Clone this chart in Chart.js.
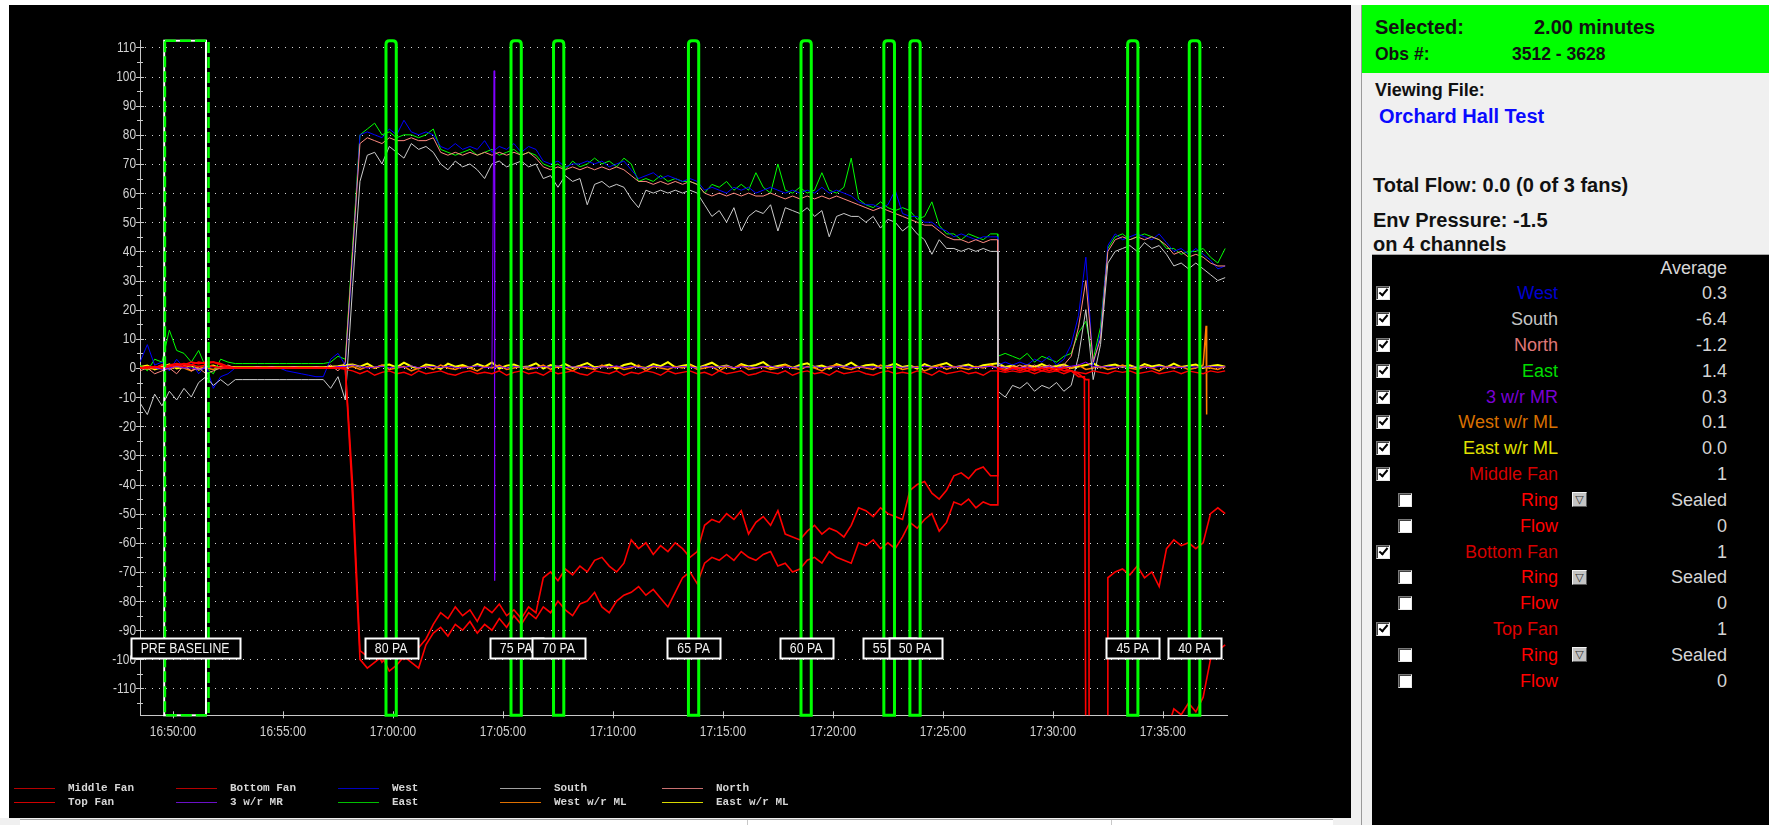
<!DOCTYPE html>
<html>
<head>
<meta charset="utf-8">
<title>Orchard Hall Test</title>
<script src="https://cdn.jsdelivr.net/npm/chart.js@4.4.1/dist/chart.umd.min.js"></script>
<style>
  html, body { margin: 0; padding: 0; }
  body { position: relative; width: 1769px; height: 825px; overflow: hidden; background: #ffffff;
         font-family: 'Liberation Sans', Arial, sans-serif; }
  .box { position: absolute; }
  .t  { position: absolute; white-space: nowrap; line-height: 1.15; transform: translateY(-50%); }
  .tr { position: absolute; white-space: nowrap; line-height: 1.15; transform: translate(-100%, -50%); }
  #plotPanel { left: 9px; top: 5px; width: 1342px; height: 813px; background: #000; }
  #plot { display: block; }
  .hdr { font-weight: bold; color: #111; }
  .cb { position: absolute; width: 12px; height: 12px; background: #fff;
        border: 1px solid; border-color: #7a7a7a #e8e8e8 #e8e8e8 #7a7a7a; box-shadow: inset 1px 1px 0 #404040; }
  .cb.on::after { content: ''; position: absolute; left: 4px; top: 0px; width: 3px; height: 7px;
        border: solid #000; border-width: 0 2px 2px 0; transform: rotate(40deg); }
  .dd { position: absolute; width: 13px; height: 13px; background: #c4c4c4;
        border: 1px solid; border-color: #f4f4f4 #5a5a5a #5a5a5a #f4f4f4;
        font: 11px 'DejaVu Sans', sans-serif; color: #303030; text-align: center; line-height: 13px; }
  .row { font-size: 18px; }
  .lg { position: absolute; font: bold 11px 'Liberation Mono', 'DejaVu Sans Mono', monospace; color: #d6d6d6;
        white-space: nowrap; line-height: 1.15; transform: translateY(-50%); }
</style>
</head>
<body>
<div class="box" id="plotPanel"><canvas id="plot" width="1342" height="813"></canvas></div>

<!-- horizontal scroll strip under the plot -->
<div class="box" style="left:0;top:818px;width:1351px;height:7px;background:#f0f0f0;"></div>
<div class="box" style="left:20px;top:819px;width:1313px;height:6px;background:#ffffff;border-top:1px solid #a8a8a8;"></div>
<div class="box" style="left:747px;top:820px;width:1px;height:5px;background:#c8c8c8;"></div>
<div class="box" style="left:1111px;top:820px;width:1px;height:5px;background:#c8c8c8;"></div>

<!-- splitter and side panel -->
<div class="box" style="left:1351px;top:5px;width:10px;height:820px;background:#f0f0f0;"></div>
<div class="box" style="left:1361px;top:5px;width:1px;height:820px;background:#9a9a9a;"></div>
<div class="box" style="left:1362px;top:5px;width:407px;height:820px;background:#f0f0f0;"></div>
<div class="box" style="left:1362px;top:5px;width:407px;height:68px;background:#00ff00;"></div>
<div class="box" id="table" style="left:1372px;top:254px;width:397px;height:571px;background:#000;border-top:1px solid #a8a8a8;"></div>

<div class="t hdr" style="left:1375px;top:27px;font-size:20px;">Selected:</div>
<div class="t hdr" style="left:1534px;top:27px;font-size:20px;">2.00 minutes</div>
<div class="t hdr" style="left:1375px;top:53.5px;font-size:17.5px;">Obs #:</div>
<div class="t hdr" style="left:1512px;top:53.5px;font-size:17.5px;">3512 - 3628</div>
<div class="t hdr" style="left:1375px;top:89.5px;font-size:18px;">Viewing File:</div>
<div class="t hdr" style="left:1379px;top:116px;font-size:20px;color:#0a0aff;">Orchard Hall Test</div>
<div class="t hdr" style="left:1373px;top:184.5px;font-size:20px;">Total Flow: 0.0 (0 of 3 fans)</div>
<div class="t hdr" style="left:1373px;top:220px;font-size:20px;">Env Pressure: -1.5</div>
<div class="t hdr" style="left:1373px;top:243.5px;font-size:20px;">on 4 channels</div>
<div class="tr row" style="left:1727px;top:268px;color:#d8d8d8;">Average</div>

<script>
// ---- sampling grid (one reading every 20 s) ----
const sampleStart = '16:48:30';
const sampleStepSec = 20;
const axisStart = '16:48:30';
const axisEnd = '17:37:55';
const timeTicks = ['16:50:00', '16:55:00', '17:00:00', '17:05:00', '17:10:00', '17:15:00',
                   '17:20:00', '17:25:00', '17:30:00', '17:35:00'];
const yMin = -119.2;
const yMax = 112.3;

// ---- channel readings (Pa), rows start at 16:48:30, 16:53:30, 16:58:30 ... ----
const middleFan = [
  0, 0, 0.5, 0, 1, 1.5, 1, 2, 1.5, 2, 2, 1, 0, 0, 0,
  0, 0, 0, 0, 0, 0, 0, 0, 0, 0, 0, 0, 0, 0, -40,
  -97, -99, -96, -101, -98, -97, -100, -98, -96, -93, -88, -84, -86, -82, -85,
  -83, -87, -82, -84, -81, -85, -83, -86, -82, -84, -72, -70, -73, -69, -71,
  -68, -70, -66, -65, -68, -70, -67, -59, -62, -60, -64, -61, -63, -60, -62,
  -65, -63, -54, -52, -53, -50, -52, -49, -57, -53, -51, -54, -49, -57, -58,
  -59, -56, -54, -57, -55, -56, -58, -54, -48, -49, -51, -48, -50, -51, -52,
  -42, -40, -39, -43, -45, -42, -37, -36, -38, -35, -34, -37, 0, -1, 0,
  -1, 0, -1, 0, -1, 0, -1, -1, -3, -135, -135, -135, -135, -135, -135,
  -135, -135, -135, -135, -135, -125, -117, -119, -115, -118, -113, -100, -97, -95
];
const bottomFan = [
  0, 0.5, 0, 1, 0.5, 1, 1.5, 1, 2, 1.5, 2, 1.5, 0.5, 0, 0,
  0, 0, 0, 0, 0, 0, 0, 0, 0, 0, 0, 0, 0, 0, -45,
  -100, -103, -101, -99, -104, -102, -99, -101, -103, -95, -91, -89, -92, -88, -90,
  -87, -91, -88, -90, -86, -89, -85, -88, -84, -86, -82, -84, -80, -83, -85,
  -81, -80, -77, -82, -84, -80, -78, -77, -75, -78, -76, -79, -82, -77, -72,
  -70, -74, -67, -65, -66, -64, -66, -63, -65, -66, -64, -63, -68, -67, -70,
  -69, -66, -65, -67, -63, -65, -66, -67, -60, -61, -59, -62, -60, -62, -58,
  -53, -55, -52, -50, -56, -53, -46, -47, -45, -48, -46, -47, 0, -1, 0,
  0, -1, 0, -1, 0, -1, 0, -1, -2, -4, -135, -135, -72, -70, -69,
  -71, -68, -72, -70, -75, -62, -59, -61, -60, -62, -60, -50, -48, -50
];
const topFan = [
  0, 0, 0.5, 0, 0.5, 1, 0.5, 1, 0.5, 1, 0.5, 0, 0, 0, 0,
  0, 0, 0, 0, 0, 0, 0, 0, 0, 0, 0, 0, 0, -0.5, -1,
  -2, -1, -2.5, -1.5, -1, -2, -1.5, -2.5, -1, -2, -1.5, -1, -2, -2.5, -1.5,
  -1, -2, -1.5, -2, -1, -2.5, -1.5, -1, -2, -1.5, -2.5, -1, -2, -1.5, -1,
  -2, -2.5, -1, -1.5, -2, -1, -2.5, -1.5, -2, -1, -1.5, -2.5, -1, -2, -1.5,
  -1, -2, -1.5, -2.5, -1, -2, -1.5, -1, -2.5, -2, -1, -1.5, -2, -1, -2.5,
  -1.5, -1, -2, -1.5, -2.5, -1, -2, -1.5, -1, -2, -2.5, -1.5, -1, -2, -1.5,
  -2, -1, -1.5, -2.5, -1, -2, -1.5, -1, -2, -1.5, -2.5, -1, -1, -1.5, -1,
  -1.5, -1, -2, -1, -1.5, -1, -2, -1, -1.5, -2, -1, -1.5, -2, -1, -1.5,
  -1, -2, -1.5, -1, -2, -1.5, -1, -2, -1, -1.5, -2, -1, -1.5, -1
];
const mrValues = [
  0, 0.5, 0, -0.5, 0, 0.5, 0, 0, -0.5, 0, 0.5, 0, 0, 0, 0,
  0, 0, 0, 0, 0, 0, 0, 0, 0, 0, 0, 0, 0.5, 0.5, 1,
  0.5, 0, 0.3, 0.6, 0, 0.4, 0.2, 0.7, 0, 0.3, 0.5, 0.1, 0.6, 0.2, 0,
  0.4, 0.7, 0.1, 0.3, 0.5, 0, 0.6, 0.2, 0.4, 0, 0.5, 0.3, 0.7, 0.1, 0.4,
  0.2, 0.6, 0, 0.4, 0.3, 0.7, 0.1, 0.5, 0.2, 0, 0.6, 0.3, 0.4, 0.1, 0.5,
  0.3, 0, 0.6, 0.2, 0.4, 0.7, 0.1, 0.3, 0.5, 0, 0.4, 0.6, 0.2, 0.3, 0.1,
  0.5, 0.2, 0.6, 0, 0.4, 0.3, 0.7, 0.1, 0.5, 0.2, 0.4, 0, 0.6, 0.3, 0.2,
  0.4, 0.1, 0.6, 0.3, 0, 0.5, 0.2, 0.7, 0.3, 0.1, 0.4, 0.5, 0, 0.3, -0.5,
  0, 0.3, -0.3, 0.2, 0.5, 0, 0.3, 0.6, 1, 2, 0.5, 0.3, 0.6, 0.2, 0.4,
  0.1, 0.5, 0.3, 0, 0.6, 0.2, 0.4, 0.1, 0.5, 0.3, 0.2, 0.6, 0.3, 0.4
];
const south = [
  -12, -16, -9, -13, -8, -11, -7, -10, -5, -3, -6, -4, -6, -4, -4,
  -4, -4, -4, -4, -4, -4, -4, -4, -4, -4, -4, -7, -3, -11, 28,
  64, 73, 74, 70, 76, 74, 72, 77, 75, 76, 74, 70, 68, 71, 69,
  70, 68, 65, 70, 71, 69, 70, 71, 69, 70, 65, 66, 62, 66, 64,
  65, 56, 63, 64, 62, 63, 62, 58, 55, 61, 60, 61, 60, 61, 60,
  61, 60, 56, 52, 54, 50, 55, 47, 52, 54, 53, 56, 47, 55, 54,
  53, 55, 52, 54, 45, 52, 53, 52, 52, 50, 52, 48, 51, 50, 47,
  49, 46, 44, 39, 44, 41, 41, 40, 41, 40, 41, 40, -8, -10, -6,
  -7, -5, -8, -6, -7, -5, -8, -6, 4, 20, -4, 8, 36, 40, 41,
  42, 40, 43, 41, 42, 39, 35, 36, 34, 36, 34, 32, 30, 31
];
const north = [
  -1, 0, -2, -1, 0, -2, 1, -1, 0, -2, -1, 0, 1, 0, 0,
  0, 0.5, 0, 0.5, 0, 0, 0.5, 0, 0, 0.5, 0, 1, -1, 2, 40,
  77, 79, 78, 77, 79, 78, 78, 79, 78, 78, 79, 74, 73, 74, 73,
  74, 73, 74, 73, 74, 73, 74, 73, 74, 72, 69, 68, 69, 68, 69,
  68, 69, 68, 69, 68, 69, 68, 66, 64, 64, 63, 64, 63, 64, 63,
  64, 63, 60, 59, 60, 59, 60, 59, 60, 59, 59, 60, 59, 58, 59,
  58, 59, 58, 59, 58, 59, 58, 57, 56, 55, 54, 55, 54, 53, 52,
  51, 50, 49, 49, 47, 45, 44, 44, 43, 44, 43, 44, 1, 0, 0,
  1, 0, 1, 0, 1, 0, 1, 4, 14, 30, 2, 10, 40, 44, 45,
  44, 45, 44, 45, 44, 42, 39, 40, 38, 39, 38, 36, 35, 35
];
const west = [
  2, 8, 1, 2, -1, 3, 0, 2, -2, 1, -7, -3, -2, 0, 0,
  0, 0, 0, 0, 0, -1, -1.5, -2, -2.5, -3, -3, 3, 5, 1, 38,
  80, 81, 80, 79, 82, 80, 85, 81, 80, 81, 80, 76, 75, 77, 75,
  76, 75, 78, 74, 76, 75, 77, 74, 76, 75, 71, 70, 71, 69, 70,
  70, 71, 70, 71, 69, 70, 71, 68, 65, 66, 67, 65, 66, 65, 64,
  65, 64, 61, 62, 61, 60, 62, 61, 62, 60, 61, 62, 61, 60, 61,
  60, 61, 60, 62, 60, 61, 60, 59, 57, 56, 56, 55, 56, 61, 53,
  52, 52, 50, 50, 48, 47, 45, 46, 45, 44, 45, 45, 1, 2, 1,
  2, 1, 3, 2, 4, 1, 3, 8, 18, 38, 1, 12, 42, 46, 44,
  45, 46, 45, 44, 46, 43, 40, 41, 39, 41, 39, 37, 34, 35
];
const east = [
  1, -1, 3, 2, 13, 6, 5, 2, 6, 0, -2, 3, 2, 1.5, 1.5,
  1.5, 1.5, 1.5, 1.5, 1.5, 1.5, 1.5, 1.5, 1.5, 1.5, 1.5, 2, 4, 3, 42,
  80, 82, 84, 80, 81, 79, 80, 80, 79, 80, 82, 75, 74, 73, 74,
  75, 73, 74, 75, 73, 74, 75, 73, 74, 73, 70, 69, 70, 68, 71,
  69, 70, 72, 70, 71, 69, 72, 70, 64, 65, 64, 66, 64, 65, 64,
  64, 63, 60, 63, 62, 64, 61, 63, 61, 67, 62, 60, 70, 61, 60,
  62, 60, 61, 67, 61, 60, 62, 72, 58, 56, 55, 57, 55, 54, 55,
  54, 51, 52, 57, 49, 46, 46, 44, 46, 45, 44, 46, 4, 5, 4,
  3, 5, 2, 4, 3, 2, 4, 5, 12, 16, 3, 14, 41, 45, 46,
  44, 45, 46, 45, 44, 41, 41, 39, 40, 40, 41, 38, 36, 41
];
const westML = [
  0.5, -0.5, 0, 1, -0.5, 0.5, 0, -1, 0.5, 0, -0.5, 0.5, 0, 0, 0,
  0, 0, 0, 0, 0, 0, 0, 0, 0, 0, 0, 0, 0.5, 0, 0.5,
  -0.5, 0.5, 0, 1, -0.5, 0, 0.5, -1, 0, 0.5, -0.5, 1, 0, -0.5, 0.5,
  0, -1, 0.5, 0, 1, -0.5, 0, 0.5, -0.5, 0, 1, -0.5, 0.5, 0, -1,
  0.5, 0, -0.5, 1, 0, 0.5, -0.5, 0, 1, -1, 0.5, 0, -0.5, 0.5, 0,
  1, -0.5, 0, 0.5, -1, 0.5, 0, 1, -0.5, 0, 0.5, -0.5, 0, 1, 0,
  -0.5, 0.5, 0, -1, 0.5, 1, 0, -0.5, 0.5, 0, -0.5, 1, 0, 0.5, -0.5,
  0, 0.5, -1, 0, 1, -0.5, 0.5, 0, -0.5, 0.5, 0, 1, 0, -0.5, 0.5,
  0, 1, -0.5, 0.5, 0, -0.5, 0.5, 0, 1, -0.5, 0, 0.5, -0.5, 0, 1,
  0, -0.5, 0.5, 0, -1, 0.5, 0, 0.5, -0.5, 0, 1, 0, -0.5, 0.5
];
const eastML = [
  0.3, 0.8, -0.5, 0.3, 1.2, -0.2, 0.4, 0.9, -0.6, 0.4, 0.8, -0.2, 0.4, 0.2, 0.2,
  0.2, 0.2, 0.2, 0.2, 0.2, 0.2, 0.2, 0.2, 0.2, 0.2, 0.2, 0.4, 0.6, 1, 1.2,
  0.4, 1.5, 0, 0.8, 1.2, 0.2, 1.8, 0.5, -0.2, 1.2, 0.8, -0.3, 1.5, 0.4, 1,
  0, 1.3, 0.4, 1.9, -0.2, 0.8, 1.2, 0.2, 0.5, 1.6, -0.2, 1, 0.3, 1.3, 0,
  0.8, 1.7, 0.2, 0.5, 1.2, -0.2, 1, 1.6, 0.3, 0, 1.3, 0.6, 2, 0.2, 0.8,
  1.2, 0, 0.9, 1.8, 0.3, 0.8, -0.2, 1.3, 0.5, 1, 2, 0.2, 0.7, 1.2, 0,
  1, 1.6, 0.3, 0.8, -0.2, 1.3, 0.5, 1.8, 0.2, 0.9, 1.2, 0, 0.7, 1.5, 0.3,
  0.8, -0.2, 1.3, 0.3, 1, 1.7, 0.2, 0.7, 1.2, 0, 0.9, 1.3, 1.6, 0.3, 0.8,
  -0.2, 1, 0.3, 1.3, 0.2, 0.7, 1.2, 0, 0.5, 1, 1.6, 0.2, 0.8, 1.2, 0.3,
  0.9, 0, 1.3, 0.5, 1, 0.2, 1.5, 0.3, 0.8, 1.2, 0, 0.7, 1, 0.4
];

// ---- extra readings between grid samples (sharp steps and spikes) ----
const extraReadings = {
  'Middle Fan': [['17:27:29', -37], ['17:31:26', -3]],
  'Bottom Fan': [['17:27:29', -47], ['17:31:38', -4], ['17:31:39', -135], ['17:32:29', -135]],
  '3 w/r MR': [['17:04:36', 102], ['17:04:37', -73], ['17:04:38', 0]],
  'South': [['17:27:29', 40]],
  'North': [['17:27:29', 44]],
  'West': [['17:27:29', 45]],
  'East': [['17:27:29', 46]],
  'West w/r ML': [['17:36:58', 14.5], ['17:36:59', -16], ['17:37:00', 0]]
};

// ---- test windows ----
const baselineLabel = 'PRE BASELINE';
const baselineWindow = ['16:49:36', '16:51:30'];
const baselineSelection = ['16:49:38', '16:51:37'];
const windowLabels = ['80 PA', '75 PA', '70 PA', '65 PA', '60 PA', '55 PA', '50 PA', '45 PA', '40 PA'];
const windowStarts = ['16:59:41', '17:05:22', '17:07:18', '17:13:26', '17:18:33', '17:22:19', '17:23:30', '17:33:24', '17:36:12'];
const windowEnds   = ['17:00:09', '17:05:50', '17:07:46', '17:13:54', '17:19:01', '17:22:48', '17:23:58', '17:33:52', '17:36:41'];
const labelLevel = -96;

// ---- legend and side table ----
const legendRows = [
  ['Middle Fan', 'Bottom Fan', 'West', 'South', 'North'],
  ['Top Fan', '3 w/r MR', 'East', 'West w/r ML', 'East w/r ML']
];
const legendSwatch = {
  'Middle Fan': '#b40000', 'Bottom Fan': '#b40000', 'West': '#0000c0', 'South': '#a0a0a0', 'North': '#c87070',
  'Top Fan': '#d00000', '3 w/r MR': '#6a10c8', 'East': '#00c000', 'West w/r ML': '#e07000', 'East w/r ML': '#d8d800'
};
const channelNames = ['West', 'South', 'North', 'East', '3 w/r MR', 'West w/r ML', 'East w/r ML'];
const channelColors = ['#0000d0', '#c4c4c4', '#e07878', '#00dd00', '#7a00d4', '#d97000', '#e0e000'];
const channelAverages = ['0.3', '-6.4', '-1.2', '1.4', '0.3', '0.1', '0.0'];
const fanNames = ['Middle Fan', 'Bottom Fan', 'Top Fan'];
const fanColors = ['#d40000', '#d40000', '#e00000'];
const fanStates = ['1', '1', '1'];
const ringStates = ['Sealed', 'Sealed', 'Sealed'];
const flowValues = ['0', '0', '0'];

// ---- helpers ----
function toSec(hms) { const p = hms.split(':').map(Number); return p[0] * 3600 + p[1] * 60 + p[2]; }
function clock(sec) {
  const h = Math.floor(sec / 3600), m = Math.floor((sec % 3600) / 60), s = Math.round(sec % 60);
  return h + ':' + String(m).padStart(2, '0') + ':' + String(s).padStart(2, '0');
}
function buildPoints(values, extras) {
  const t0 = toSec(sampleStart);
  const pts = values.map((v, i) => ({ x: t0 + i * sampleStepSec, y: v }));
  (extras || []).forEach(e => pts.push({ x: toSec(e[0]), y: e[1] }));
  pts.sort((a, b) => a.x - b.x);
  return pts;
}

const series = [
  { name: 'Middle Fan', values: middleFan, color: '#ff0000', width: 1.6 },
  { name: 'Bottom Fan', values: bottomFan, color: '#ff0000', width: 1.6 },
  { name: 'Top Fan', values: topFan, color: '#ff0000', width: 1.4 },
  { name: '3 w/r MR', values: mrValues, color: '#8000ff', width: 1 },
  { name: 'South', values: south, color: '#cccccc', width: 1 },
  { name: 'North', values: north, color: '#ff8a80', width: 1 },
  { name: 'West', values: west, color: '#0000ff', width: 1 },
  { name: 'East', values: east, color: '#00ff00', width: 1 },
  { name: 'West w/r ML', values: westML, color: '#ff8000', width: 1.5 },
  { name: 'East w/r ML', values: eastML, color: '#ffff00', width: 2 }
];

// condensed sans text, like the logger's narrow screen font
const labelFamily = "'Liberation Sans', Arial, sans-serif";
const condense = 0.82;
function narrowText(ctx, text, x, y, align, size) {
  ctx.save();
  ctx.font = size + 'px ' + labelFamily;
  ctx.textAlign = align;
  ctx.textBaseline = 'middle';
  ctx.translate(x, y);
  ctx.scale(condense, 1);
  ctx.fillText(text, 0, 0);
  ctx.restore();
}
function narrowWidth(ctx, text, size) {
  ctx.save();
  ctx.font = size + 'px ' + labelFamily;
  const w = ctx.measureText(text).width * condense;
  ctx.restore();
  return w;
}

function line(ctx, x1, y1, x2, y2) { ctx.beginPath(); ctx.moveTo(x1, y1); ctx.lineTo(x2, y2); ctx.stroke(); }
function roundedBox(ctx, x1, y1, x2, y2, r) {
  ctx.beginPath();
  ctx.moveTo(x1, y2);
  ctx.lineTo(x1, y1 + r);
  ctx.quadraticCurveTo(x1, y1, x1 + r, y1);
  ctx.lineTo(x2 - r, y1);
  ctx.quadraticCurveTo(x2, y1, x2, y1 + r);
  ctx.lineTo(x2, y2);
  ctx.closePath();
}
function tag(ctx, text, cx, cy) {
  const w = Math.round(narrowWidth(ctx, text, 15)) + 20, h = 20;
  const x0 = Math.round(cx - w / 2) + 0.5, y0 = Math.round(cy - h / 2) + 0.5;
  ctx.fillStyle = '#000';
  ctx.fillRect(x0, y0, w, h);
  ctx.strokeStyle = '#ffffff';
  ctx.lineWidth = 2;
  ctx.strokeRect(x0, y0, w, h);
  ctx.fillStyle = '#f2f2f2';
  narrowText(ctx, text, cx, cy + 1, 'center', 15);
}

// grid, tick marks, tick labels, test windows and their tags
const annotations = {
  id: 'annotations',
  beforeDatasetsDraw(chart) {
    const { ctx, chartArea: a, scales: { x, y } } = chart;
    ctx.save();
    ctx.strokeStyle = '#d4d4d4';
    ctx.lineWidth = 1;
    ctx.setLineDash([1, 6]);
    y.ticks.forEach(t => {
      const py = Math.round(y.getPixelForValue(t.value)) + 0.5;
      line(ctx, a.left + 5, py, a.right, py);
    });
    ctx.setLineDash([]);
    ctx.strokeStyle = '#c8c8c8';
    y.ticks.forEach(t => {
      const py = Math.round(y.getPixelForValue(t.value)) + 0.5;
      line(ctx, a.left - 4, py, a.left + 4, py);
      const half = t.value - 5;
      if (half > y.min) {
        const pm = Math.round(y.getPixelForValue(half)) + 0.5;
        line(ctx, a.left - 3, pm, a.left + 3, pm);
      }
    });
    x.ticks.forEach(t => {
      const px = Math.round(x.getPixelForValue(t.value)) + 0.5;
      line(ctx, px, a.bottom - 4, px, a.bottom + 3);
    });
    ctx.fillStyle = '#d2d2d2';
    y.ticks.forEach(t => narrowText(ctx, String(t.value), a.left - 4, y.getPixelForValue(t.value) + 0.5, 'right', 14.5));
    x.ticks.forEach(t => narrowText(ctx, clock(t.value), x.getPixelForValue(t.value), a.bottom + 16.5, 'center', 14.5));
    ctx.restore();
  },
  afterDatasetsDraw(chart) {
    const { ctx, chartArea: a, scales: { x, y } } = chart;
    const px = s => x.getPixelForValue(toSec(s));
    ctx.save();
    // baseline window
    ctx.strokeStyle = '#ffffff';
    ctx.lineWidth = 2;
    const b1 = px(baselineWindow[0]), b2 = px(baselineWindow[1]);
    ctx.strokeRect(b1, a.top, b2 - b1, a.bottom - a.top);
    ctx.strokeStyle = '#00ff00';
    ctx.lineWidth = 2.5;
    ctx.setLineDash([11, 4]);
    const s1 = px(baselineSelection[0]), s2 = px(baselineSelection[1]);
    ctx.strokeRect(s1, a.top, s2 - s1, a.bottom - a.top);
    ctx.setLineDash([]);
    // pressure-step windows
    ctx.lineWidth = 3;
    windowStarts.forEach((st, i) => {
      roundedBox(ctx, px(st), a.top, px(windowEnds[i]), a.bottom, 3.5);
      ctx.stroke();
    });
    // tags
    const ly = y.getPixelForValue(labelLevel);
    tag(ctx, baselineLabel, (b1 + b2) / 2, ly);
    windowLabels.forEach((lab, i) => tag(ctx, lab, (px(windowStarts[i]) + px(windowEnds[i])) / 2, ly));
    ctx.restore();
  }
};

new Chart(document.getElementById('plot'), {
  type: 'line',
  data: {
    datasets: series.map(s => ({
      label: s.name,
      data: buildPoints(s.values, extraReadings[s.name]),
      borderColor: s.color,
      borderWidth: s.width,
      pointRadius: 0,
      fill: false,
      tension: 0
    }))
  },
  options: {
    responsive: false,
    animation: false,
    events: [],
    devicePixelRatio: 1,
    layout: { padding: { left: 0, top: 35.7, right: 124, bottom: 62.7 } },
    plugins: { legend: { display: false }, tooltip: { enabled: false } },
    scales: {
      x: {
        type: 'linear',
        min: toSec(axisStart),
        max: toSec(axisEnd),
        grid: { display: false, drawTicks: false },
        border: { display: true, color: '#c8c8c8', width: 1 },
        ticks: { display: false },
        afterBuildTicks: s => { s.ticks = timeTicks.map(t => ({ value: toSec(t) })); },
        afterFit: s => { s.height = 40; }
      },
      y: {
        min: yMin,
        max: yMax,
        grid: { display: false, drawTicks: false },
        border: { display: true, color: '#c8c8c8', width: 1 },
        ticks: { display: false, stepSize: 10, includeBounds: false },
        afterFit: s => { s.width = 131; }
      }
    }
  },
  plugins: [annotations]
});

// ---- legend under the plot ----
legendRows.forEach((row, r) => {
  const cy = 788.3 + r * 14;
  row.forEach((name, c) => {
    const sw = document.createElement('div');
    sw.className = 'box';
    sw.style.cssText = `left:${14 + 162 * c}px;top:${Math.round(cy - 0.5)}px;width:41px;height:1px;background:${legendSwatch[name]};`;
    document.body.appendChild(sw);
    const tx = document.createElement('div');
    tx.className = 'lg';
    tx.style.left = (68 + 162 * c) + 'px';
    tx.style.top = cy + 'px';
    tx.textContent = name;
    document.body.appendChild(tx);
  });
});

// ---- channel table ----
const tableRows = [];
channelNames.forEach((n, i) => tableRows.push({ level: 1, name: n, color: channelColors[i], value: channelAverages[i] }));
fanNames.forEach((n, i) => {
  tableRows.push({ level: 1, name: n, color: fanColors[i], value: fanStates[i] });
  tableRows.push({ level: 2, name: 'Ring', color: '#ff0000', value: ringStates[i], menu: true });
  tableRows.push({ level: 2, name: 'Flow', color: '#ff0000', value: flowValues[i] });
});
tableRows.forEach((row, i) => {
  const cy = 293.3 + i * 25.83;
  const cb = document.createElement('div');
  cb.className = 'cb' + (row.level === 1 ? ' on' : '');
  cb.style.left = (row.level === 1 ? 1376 : 1398) + 'px';
  cb.style.top = Math.round(cy - 7) + 'px';
  document.body.appendChild(cb);
  const nm = document.createElement('div');
  nm.className = 'tr row';
  nm.style.left = '1558px';
  nm.style.top = cy + 'px';
  nm.style.color = row.color;
  nm.textContent = row.name;
  document.body.appendChild(nm);
  if (row.menu) {
    const dd = document.createElement('div');
    dd.className = 'dd';
    dd.style.left = '1572px';
    dd.style.top = Math.round(cy - 7.5) + 'px';
    dd.textContent = '\u25BD';
    document.body.appendChild(dd);
  }
  const val = document.createElement('div');
  val.className = 'tr row';
  val.style.left = '1727px';
  val.style.top = cy + 'px';
  val.style.color = '#d4d4d4';
  val.textContent = row.value;
  document.body.appendChild(val);
});
</script>
</body>
</html>
